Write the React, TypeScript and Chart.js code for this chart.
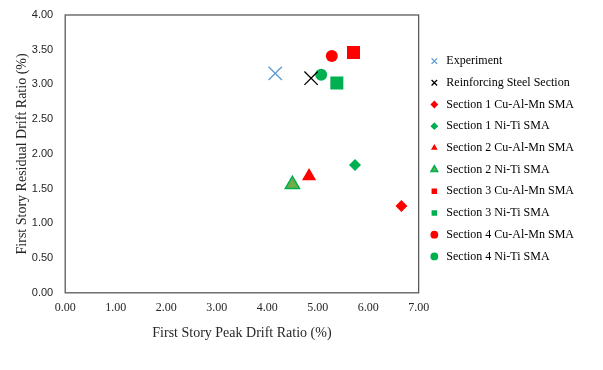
import React, { useEffect, useRef } from "react";
import { Chart, registerables } from "chart.js";

Chart.register(...registerables);

const seriesNames = [
  "Experiment",
  "Reinforcing Steel Section",
  "Section 1 Cu-Al-Mn SMA",
  "Section 1 Ni-Ti SMA",
  "Section 2 Cu-Al-Mn SMA",
  "Section 2 Ni-Ti SMA",
  "Section 3 Cu-Al-Mn SMA",
  "Section 3 Ni-Ti SMA",
  "Section 4 Cu-Al-Mn SMA",
  "Section 4 Ni-Ti SMA",
];
const peakDrift = [4.16, 4.87, 6.66, 5.74, 4.83, 4.5, 5.71, 5.38, 5.28, 5.07];
const residualDrift = [3.16, 3.09, 1.25, 1.84, 1.68, 1.56, 3.46, 3.02, 3.41, 3.14];
const pointStyles = ["crossRot", "crossRot", "rectRot", "rectRot", "triangle", "triangle", "rect", "rect", "circle", "circle"];
const fillColors = ["#5B9BD5", "#000000", "#FF0000", "#00B050", "#FF0000", "#70AD47", "#FF0000", "#00B050", "#FF0000", "#00B050"];
const edgeColors = ["#5B9BD5", "#000000", "#FF0000", "#00B050", "#FF0000", "#00B050", "#FF0000", "#00B050", "#FF0000", "#00B050"];
const markerRadius = [9.4, 9.4, 6, 6, 8.2, 8.2, 9.2, 9.2, 6, 6];
const markerBorder = [1.3, 1.3, 0, 0, 0, 1.5, 0, 0, 0, 0];

const SERIF = "'Liberation Serif', 'Times New Roman', serif";
const SANS = "'Liberation Sans', Arial, sans-serif";

const framePlugin = {
  id: "frame",
  afterDraw(chart: any) {
    const { ctx, chartArea } = chart;
    ctx.save();
    ctx.strokeStyle = "#595959";
    ctx.lineWidth = 1.3;
    ctx.strokeRect(chartArea.left, chartArea.top, chartArea.right - chartArea.left, chartArea.bottom - chartArea.top);
    ctx.restore();
  },
};

export default function App() {
  const ref = useRef<HTMLCanvasElement>(null);
  useEffect(() => {
    if (!ref.current) return;
    const datasets = seriesNames.map((name, i) => ({
      label: name,
      data: [{ x: peakDrift[i], y: residualDrift[i] }],
      pointStyle: pointStyles[i],
      backgroundColor: fillColors[i],
      borderColor: edgeColors[i],
      borderWidth: markerBorder[i],
      pointRadius: markerRadius[i],
      pointHoverRadius: markerRadius[i],
    }));
    const chart = new Chart(ref.current, {
      type: "scatter",
      data: { datasets },
      plugins: [framePlugin],
      options: {
        animation: false,
        responsive: false,
        maintainAspectRatio: false,
        layout: { padding: { left: 8, right: 19, top: 15, bottom: 24 } },
        plugins: {
          tooltip: { enabled: false },
          legend: {
            position: "right",
            align: "start",
            maxWidth: 220,
            title: { display: true, text: "", font: { size: 12 }, padding: { top: 0, bottom: 16 } },
            labels: {
              usePointStyle: true,
              boxHeight: 5.5,
              boxWidth: 12,
              padding: 9.7,
              color: "#000000",
              font: { family: SERIF, size: 12 },
            },
          },
        },
        scales: {
          x: {
            type: "linear",
            min: 0,
            max: 7,
            grid: { display: false, drawTicks: false },
            border: { display: false },
            ticks: {
              stepSize: 1,
              padding: 8,
              color: "#262626",
              font: { family: SERIF, size: 12 },
              callback: (v: any) => Number(v).toFixed(2),
            },
            title: {
              display: true,
              text: "First Story Peak Drift Ratio (%)",
              color: "#262626",
              font: { family: SERIF, size: 14 },
              padding: { top: 2, bottom: 4 },
            },
          },
          y: {
            type: "linear",
            min: 0,
            max: 4,
            grid: { display: false, drawTicks: false },
            border: { display: false },
            afterFit: (scale: any) => {
              scale.paddingTop = 0;
            },
            ticks: {
              stepSize: 0.5,
              padding: 12,
              color: "#262626",
              font: { family: SANS, size: 11 },
              callback: (v: any) => Number(v).toFixed(2),
            },
            title: {
              display: true,
              text: "First Story Residual Drift Ratio (%)",
              color: "#262626",
              font: { family: SERIF, size: 14 },
              padding: { top: 6, bottom: -11 },
            },
          },
        },
      },
    });
    return () => chart.destroy();
  }, []);
  return (
    <div style={{ position: "fixed", left: 0, top: 0, width: 603, height: 370, background: "#ffffff" }}>
      <canvas ref={ref} width={603} height={370} style={{ display: "block" }} />
    </div>
  );
}
